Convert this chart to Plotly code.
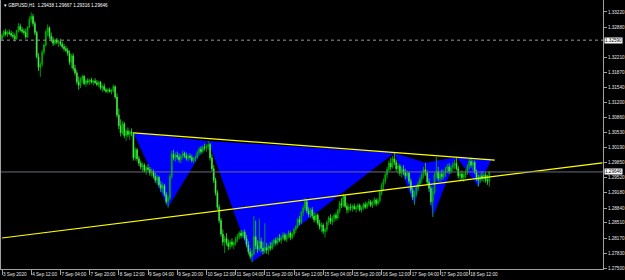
import pandas as pd
import plotly.graph_objects as go

# ---------------- data (GBPUSD H1) ----------------
bar_open = [
1.3262,1.3270,1.3278,1.3272,1.3276,1.3274,1.3270,1.3268,1.3262,1.3280,
1.3290,1.3282,1.3279,1.3276,1.3266,1.3288,1.3305,1.3312,1.3296,1.3276,
1.3222,1.3198,1.3205,1.3232,1.3248,1.3278,1.3286,1.3268,1.3260,1.3252,
1.3258,1.3254,1.3256,1.3250,1.3244,1.3240,1.3236,1.3230,1.3210,1.3224,
1.3196,1.3186,1.3166,1.3158,1.3172,1.3178,1.3162,1.3168,1.3166,1.3170,
1.3165,1.3168,1.3164,1.3160,1.3165,1.3152,1.3156,1.3148,1.3145,1.3148,
1.3144,1.3146,1.3155,1.3132,1.3092,1.3068,1.3052,1.3072,1.3046,1.3056,
1.3048,1.3054,1.3050,1.2996,1.3014,1.2994,1.2984,1.2976,1.2980,1.2968,
1.2974,1.2970,1.2962,1.2966,1.2955,1.2946,1.2952,1.2936,1.2928,1.2934,
1.2914,1.2898,1.2906,1.2954,1.3004,1.2996,1.3002,1.2998,1.2992,1.3000,
1.3006,1.3001,1.2995,1.3000,1.2997,1.2990,1.2994,1.2998,1.3008,1.3016,
1.3010,1.3020,1.3018,1.3022,1.3026,1.2996,1.2972,1.2946,1.2918,1.2886,
1.2856,1.2826,1.2808,1.2816,1.2806,1.2798,1.2808,1.2802,1.2806,1.2814,
1.2820,1.2828,1.2822,1.2830,1.2816,1.2802,1.2786,1.2776,1.2782,1.2820,
1.2800,1.2792,1.2810,1.2794,1.2788,1.2796,1.2790,1.2798,1.2794,1.2806,
1.2812,1.2806,1.2816,1.2812,1.2818,1.2824,1.2814,1.2822,1.2828,1.2818,
1.2826,1.2836,1.2842,1.2858,1.2852,1.2874,1.2884,1.2898,1.2878,1.2870,
1.2880,1.2866,1.2858,1.2868,1.2850,1.2842,1.2846,1.2832,1.2836,1.2852,
1.2862,1.2854,1.2860,1.2868,1.2862,1.2878,1.2894,1.2890,1.2910,1.2888,
1.2880,1.2886,1.2884,1.2888,1.2882,1.2886,1.2890,1.2880,1.2884,1.2892,
1.2886,1.2894,1.2898,1.2890,1.2896,1.2902,1.2894,1.2900,1.2918,1.2934,
1.2944,1.2958,1.2970,1.2984,1.2976,1.2994,1.2986,1.2972,1.2978,1.2962,
1.2970,1.2964,1.2956,1.2962,1.2944,1.2924,1.2908,1.2916,1.2930,1.2938,
1.2948,1.2958,1.2970,1.2962,1.2942,1.2928,1.2898,1.2920,1.2958,1.2966,
1.2950,1.2960,1.2954,1.2962,1.2970,1.2976,1.2966,1.2974,1.2980,1.2984,
1.2972,1.2956,1.2960,1.2952,1.2958,1.2964,1.2976,1.2988,1.2980,1.2986,
1.2964,1.2950,1.2946,1.2956,1.2950,1.2958,1.2946,1.29438]

bar_high = [
1.3275,1.3282,1.3284,1.3280,1.3283,1.3280,1.3277,1.3274,1.3282,1.3297,
1.3296,1.3288,1.3285,1.3284,1.3290,1.3312,1.3321,1.3318,1.3302,1.3280,
1.3230,1.3210,1.3238,1.3252,1.3282,1.3294,1.3290,1.3276,1.3266,1.3262,
1.3264,1.3260,1.3262,1.3256,1.3250,1.3246,1.3242,1.3236,1.3228,1.3230,
1.3204,1.3192,1.3178,1.3176,1.3182,1.3181,1.3172,1.3174,1.3172,1.3175,
1.3171,1.3174,1.3170,1.3168,1.3168,1.3160,1.3162,1.3152,1.3151,1.3153,
1.3150,1.3160,1.3158,1.3140,1.3106,1.3082,1.3078,1.3076,1.3060,1.3064,
1.3058,1.3062,1.3054,1.3020,1.3018,1.3000,1.2990,1.2986,1.2984,1.2978,
1.2982,1.2976,1.2972,1.2970,1.2962,1.2958,1.2956,1.2944,1.2940,1.2938,
1.2920,1.2912,1.2960,1.3012,1.3014,1.3008,1.3010,1.3006,1.3004,1.3012,
1.3010,1.3008,1.3004,1.3006,1.3003,1.2998,1.3002,1.3012,1.3020,1.3022,
1.3024,1.3028,1.3026,1.3034,1.3030,1.3004,1.2980,1.2952,1.2924,1.2892,
1.2862,1.2836,1.2822,1.2828,1.2814,1.2812,1.2816,1.2810,1.2820,1.2826,
1.2832,1.2835,1.2834,1.2836,1.2824,1.2810,1.2794,1.2790,1.2866,1.2856,
1.2812,1.2860,1.2818,1.2808,1.2850,1.2806,1.2802,1.2808,1.2812,1.2816,
1.2818,1.2820,1.2826,1.2822,1.2830,1.2828,1.2826,1.2834,1.2832,1.2830,
1.2840,1.2846,1.2862,1.2866,1.2878,1.2890,1.2906,1.2904,1.2886,1.2884,
1.2886,1.2874,1.2872,1.2872,1.2858,1.2852,1.2850,1.2840,1.2856,1.2866,
1.2870,1.2866,1.2872,1.2874,1.2882,1.2900,1.2906,1.2916,1.2914,1.2896,
1.2892,1.2894,1.2892,1.2894,1.2890,1.2895,1.2894,1.2888,1.2896,1.2898,
1.2898,1.2904,1.2902,1.2900,1.2908,1.2906,1.2906,1.2922,1.2940,1.2950,
1.2964,1.2976,1.2990,1.2996,1.3000,1.3007,1.2992,1.2984,1.2982,1.2976,
1.2980,1.2972,1.2968,1.2966,1.2950,1.2930,1.2922,1.2936,1.2944,1.2954,
1.2964,1.2976,1.2985,1.2968,1.2950,1.2934,1.2930,1.2964,1.2998,1.2976,
1.2966,1.2970,1.2968,1.2976,1.2982,1.2984,1.2980,1.2986,1.2992,1.2998,
1.2978,1.2966,1.2968,1.2964,1.2970,1.2982,1.2994,1.2996,1.2992,1.2990,
1.2970,1.2958,1.2962,1.2966,1.2962,1.2964,1.2958,1.29667]

bar_low = [
1.3258,1.3265,1.3268,1.3266,1.3270,1.3266,1.3262,1.3256,1.3260,1.3276,
1.3278,1.3274,1.3271,1.3262,1.3264,1.3285,1.3298,1.3290,1.3270,1.3218,
1.3190,1.3177,1.3200,1.3226,1.3244,1.3268,1.3262,1.3254,1.3246,1.3248,
1.3250,1.3244,1.3246,1.3240,1.3234,1.3232,1.3224,1.3204,1.3196,1.3190,
1.3180,1.3160,1.3148,1.3152,1.3164,1.3158,1.3155,1.3160,1.3159,1.3162,
1.3158,1.3161,1.3156,1.3154,1.3148,1.3143,1.3145,1.3141,1.3140,1.3142,
1.3138,1.3142,1.3128,1.3086,1.3060,1.3044,1.3048,1.3040,1.3034,1.3042,
1.3036,1.3044,1.2990,1.2990,1.2988,1.2978,1.2970,1.2966,1.2964,1.2958,
1.2966,1.2956,1.2954,1.2950,1.2940,1.2936,1.2930,1.2920,1.2918,1.2910,
1.2892,1.2885,1.2902,1.2950,1.2990,1.2988,1.2992,1.2986,1.2984,1.2994,
1.2996,1.2990,1.2988,1.2992,1.2986,1.2984,1.2988,1.2994,1.3002,1.3004,
1.3006,1.3012,1.3010,1.3014,1.2990,1.2966,1.2940,1.2912,1.2880,1.2850,
1.2820,1.2800,1.2784,1.2800,1.2790,1.2792,1.2796,1.2792,1.2800,1.2808,
1.2814,1.2816,1.2818,1.2812,1.2796,1.2780,1.2770,1.2763,1.2778,1.2792,
1.2784,1.2788,1.2786,1.2780,1.2782,1.2782,1.2780,1.2788,1.2790,1.2796,
1.2800,1.2802,1.2808,1.2804,1.2812,1.2810,1.2808,1.2816,1.2812,1.2814,
1.2820,1.2828,1.2838,1.2846,1.2848,1.2866,1.2878,1.2872,1.2864,1.2862,
1.2860,1.2852,1.2852,1.2846,1.2836,1.2830,1.2826,1.2818,1.2830,1.2846,
1.2848,1.2846,1.2852,1.2856,1.2858,1.2872,1.2884,1.2886,1.2884,1.2872,
1.2874,1.2878,1.2876,1.2880,1.2874,1.2880,1.2876,1.2874,1.2880,1.2882,
1.2882,1.2888,1.2886,1.2884,1.2890,1.2888,1.2890,1.2896,1.2912,1.2924,
1.2938,1.2950,1.2964,1.2968,1.2972,1.2980,1.2966,1.2960,1.2956,1.2952,
1.2958,1.2948,1.2950,1.2938,1.2918,1.2902,1.2891,1.2910,1.2922,1.2932,
1.2940,1.2950,1.2956,1.2936,1.2920,1.2890,1.2864,1.2914,1.2950,1.2944,
1.2942,1.2946,1.2948,1.2954,1.2962,1.2960,1.2960,1.2966,1.2970,1.2968,
1.2950,1.2944,1.2946,1.2942,1.2950,1.2958,1.2970,1.2974,1.2968,1.2960,
1.2944,1.2932,1.2940,1.2944,1.2942,1.2940,1.2936,1.29316]

bar_close = [
1.3270,1.3278,1.3272,1.3276,1.3274,1.3270,1.3268,1.3262,1.3280,1.3290,
1.3282,1.3279,1.3276,1.3266,1.3288,1.3305,1.3312,1.3296,1.3276,1.3222,
1.3198,1.3205,1.3232,1.3248,1.3278,1.3286,1.3268,1.3260,1.3252,1.3258,
1.3254,1.3256,1.3250,1.3244,1.3240,1.3236,1.3230,1.3210,1.3224,1.3196,
1.3186,1.3166,1.3158,1.3172,1.3178,1.3162,1.3168,1.3166,1.3170,1.3165,
1.3168,1.3164,1.3160,1.3165,1.3152,1.3156,1.3148,1.3145,1.3148,1.3144,
1.3146,1.3155,1.3132,1.3092,1.3068,1.3052,1.3072,1.3046,1.3056,1.3048,
1.3054,1.3050,1.2996,1.3014,1.2994,1.2984,1.2976,1.2980,1.2968,1.2974,
1.2970,1.2962,1.2966,1.2955,1.2946,1.2952,1.2936,1.2928,1.2934,1.2914,
1.2898,1.2906,1.2954,1.3004,1.2996,1.3002,1.2998,1.2992,1.3000,1.3006,
1.3001,1.2995,1.3000,1.2997,1.2990,1.2994,1.2998,1.3008,1.3016,1.3010,
1.3020,1.3018,1.3022,1.3026,1.2996,1.2972,1.2946,1.2918,1.2886,1.2856,
1.2826,1.2808,1.2816,1.2806,1.2798,1.2808,1.2802,1.2806,1.2814,1.2820,
1.2828,1.2822,1.2830,1.2816,1.2802,1.2786,1.2776,1.2782,1.2820,1.2800,
1.2792,1.2810,1.2794,1.2788,1.2796,1.2790,1.2798,1.2794,1.2806,1.2812,
1.2806,1.2816,1.2812,1.2818,1.2824,1.2814,1.2822,1.2828,1.2818,1.2826,
1.2836,1.2842,1.2858,1.2852,1.2874,1.2884,1.2898,1.2878,1.2870,1.2880,
1.2866,1.2858,1.2868,1.2850,1.2842,1.2846,1.2832,1.2836,1.2852,1.2862,
1.2854,1.2860,1.2868,1.2862,1.2878,1.2894,1.2890,1.2910,1.2888,1.2880,
1.2886,1.2884,1.2888,1.2882,1.2886,1.2890,1.2880,1.2884,1.2892,1.2886,
1.2894,1.2898,1.2890,1.2896,1.2902,1.2894,1.2900,1.2918,1.2934,1.2944,
1.2958,1.2970,1.2984,1.2976,1.2994,1.2986,1.2972,1.2978,1.2962,1.2970,
1.2964,1.2956,1.2962,1.2944,1.2924,1.2908,1.2916,1.2930,1.2938,1.2948,
1.2958,1.2970,1.2962,1.2942,1.2928,1.2898,1.2920,1.2958,1.2966,1.2950,
1.2960,1.2954,1.2962,1.2970,1.2976,1.2966,1.2974,1.2980,1.2984,1.2972,
1.2956,1.2960,1.2952,1.2958,1.2964,1.2976,1.2988,1.2980,1.2986,1.2964,
1.2950,1.2946,1.2956,1.2950,1.2958,1.2946,1.2944,1.29646]

# bar times: hourly, weekends skipped
hours = pd.date_range("2020-09-03 20:00", "2020-09-18 23:00", freq="h")
bar_times = hours[hours.dayofweek < 5]

# x axis labels
xlabel_times = ["2020-09-03 20:00", "2020-09-04 12:00", "2020-09-07 04:00", "2020-09-07 20:00",
                "2020-09-08 12:00", "2020-09-09 04:00", "2020-09-09 20:00", "2020-09-10 12:00",
                "2020-09-11 04:00", "2020-09-11 20:00", "2020-09-14 12:00", "2020-09-15 04:00",
                "2020-09-15 20:00", "2020-09-16 12:00", "2020-09-17 04:00", "2020-09-17 20:00",
                "2020-09-18 12:00"]
xlabel_text = ["3 Sep 2020", "4 Sep 12:00", "7 Sep 04:00", "7 Sep 20:00", "8 Sep 12:00",
               "9 Sep 04:00", "9 Sep 20:00", "10 Sep 12:00", "11 Sep 04:00", "11 Sep 20:00",
               "14 Sep 12:00", "15 Sep 04:00", "15 Sep 20:00", "16 Sep 12:00", "17 Sep 04:00",
               "17 Sep 20:00", "18 Sep 12:00"]

# price scale labels
ytick_vals = [1.27500, 1.27830, 1.28170, 1.28510, 1.28840, 1.29180, 1.29520, 1.29850,
              1.30190, 1.30530, 1.30860, 1.31200, 1.31540, 1.31870, 1.32210, 1.32880, 1.33220]

# zigzag points of the triangle pattern (bar index, price)
zz_idx = [72, 91, 113, 137, 215, 226, 232, 236, 249, 261, 268]
zz_price = [1.3052, 1.2885, 1.3034, 1.2763, 1.3007, 1.2891, 1.2985, 1.2864, 1.2998, 1.2932, 1.2991]

# trend lines (bar index, price)
upper_idx = [72, 270]
upper_price = [1.3052, 1.2991]
lower_idx = [0, 329]
lower_price = [1.2817, 1.2985]

dotted_level = 1.32590
last_price = 1.29646
title_text = "\u25BE GBPUSD,H1  1.29438 1.29667 1.29316 1.29646"

# ---------------- figure ----------------
n = len(bar_close)
xs = list(range(n))
tick_pos = [int(p) for p in bar_times.get_indexer(pd.to_datetime(xlabel_times))]

fig = go.Figure()

# pattern triangles (consecutive zigzag triples) drawn beneath the bars
for k in range(0, len(zz_idx) - 2, 2):
    pts = list(zip(zz_idx[k:k + 3], zz_price[k:k + 3]))
    path = "M " + " L ".join(f"{a},{b}" for a, b in pts) + " Z"
    fig.add_shape(type="path", path=path, xref="x", yref="y", layer="below",
                  fillcolor="#0000ff", line=dict(width=0))

fig.add_trace(go.Candlestick(
    x=xs, open=bar_open, high=bar_high, low=bar_low, close=bar_close,
    increasing=dict(line=dict(color="#00b800", width=0.8), fillcolor="#007a00"),
    decreasing=dict(line=dict(color="#28e628", width=0.8), fillcolor="#c8ffc8"),
    whiskerwidth=0))

fig.add_trace(go.Scatter(x=upper_idx, y=upper_price, mode="lines",
                         line=dict(color="#ffff00", width=1.2), hoverinfo="skip"))
fig.add_trace(go.Scatter(x=lower_idx, y=lower_price, mode="lines",
                         line=dict(color="#ffff00", width=1.2), hoverinfo="skip"))

fig.add_hline(y=dotted_level, line=dict(color="#9a9a9a", width=1, dash="dot"))
fig.add_hline(y=last_price, line=dict(color="#6a6a78", width=1))

font_fam = "Liberation Sans, Arial, sans-serif"
for lv in [dotted_level, last_price]:
    fig.add_annotation(xref="paper", x=1, y=lv, yref="y", xanchor="left", yanchor="middle",
                       xshift=1, text=f"{lv:.5f}", showarrow=False, bgcolor="#ffffff",
                       borderpad=0, font=dict(family=font_fam, size=4.6, color="#000000"))

fig.add_annotation(xref="paper", yref="paper", x=0, y=1, xanchor="left", yanchor="top",
                   xshift=1, yshift=-1, text=title_text, showarrow=False,
                   font=dict(family=font_fam, size=4.6, color="#ffffff"))

fig.update_layout(
    width=625, height=280,
    margin=dict(l=1, r=22, t=0, b=11, autoexpand=False),
    paper_bgcolor="#000000", plot_bgcolor="#000000",
    showlegend=False,
    font=dict(family=font_fam, size=4.6, color="#e6e6e6"),
)
fig.update_xaxes(
    range=[-0.55, 329.3], showgrid=False, zeroline=False, automargin=False,
    showline=True, mirror=True, linecolor="#a0a0a0", linewidth=1,
    ticks="outside", ticklen=5, tickcolor="#a0a0a0", tickwidth=1, tickangle=0,
    tickvals=tick_pos, ticktext=xlabel_text, ticklabelposition="outside right",
    tickfont=dict(family=font_fam, size=4.6, color="#e6e6e6"),
    rangeslider=dict(visible=False), fixedrange=True,
)
fig.update_yaxes(
    range=[1.27478, 1.33487], side="right", showgrid=False, zeroline=False, automargin=False,
    showline=True, mirror=True, linecolor="#a0a0a0", linewidth=1,
    ticks="outside", ticklen=3, tickcolor="#a0a0a0", tickwidth=1,
    tickvals=ytick_vals, ticktext=[f"{v:.5f}" for v in ytick_vals],
    tickfont=dict(family=font_fam, size=4.6, color="#e6e6e6"), fixedrange=True,
)

fig.write_html("out.html")
